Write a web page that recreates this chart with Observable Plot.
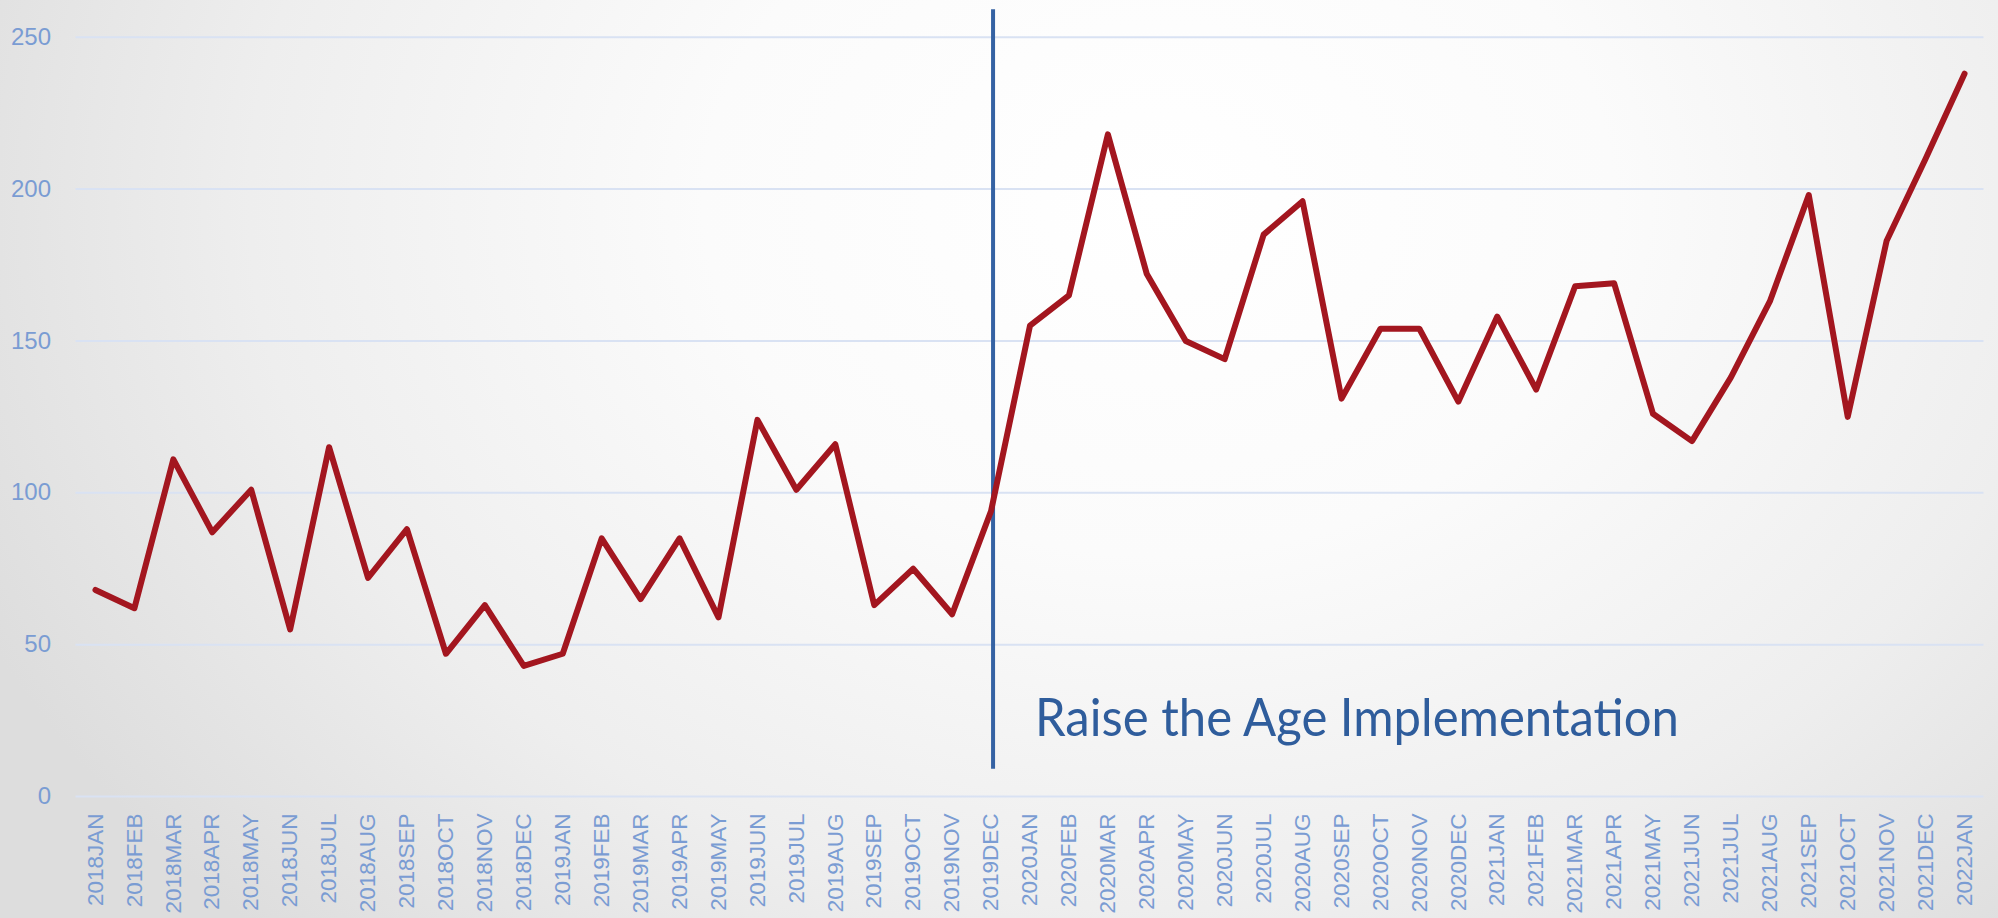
<!DOCTYPE html>
<html>
<head>
<meta charset="utf-8">
<script src="https://cdn.jsdelivr.net/npm/d3@7"></script>
<script src="https://cdn.jsdelivr.net/npm/@observablehq/plot@0.6"></script>
<style>
  html, body { margin: 0; padding: 0; }
  body {
    width: 1998px; height: 918px; overflow: hidden;
    background: radial-gradient(ellipse 65% 110% at 58% 22%, #ffffff 0%, #fbfbfb 35%, #eeeeee 70%, #dddddd 100%);
  }
  #chart svg { display: block; }
</style>
</head>
<body>
<div id="chart"></div>
<script>
const months = [
  "2018JAN","2018FEB","2018MAR","2018APR","2018MAY","2018JUN","2018JUL","2018AUG","2018SEP","2018OCT","2018NOV","2018DEC",
  "2019JAN","2019FEB","2019MAR","2019APR","2019MAY","2019JUN","2019JUL","2019AUG","2019SEP","2019OCT","2019NOV","2019DEC",
  "2020JAN","2020FEB","2020MAR","2020APR","2020MAY","2020JUN","2020JUL","2020AUG","2020SEP","2020OCT","2020NOV","2020DEC",
  "2021JAN","2021FEB","2021MAR","2021APR","2021MAY","2021JUN","2021JUL","2021AUG","2021SEP","2021OCT","2021NOV","2021DEC",
  "2022JAN"
];
const counts = [
  68, 62, 111, 87, 101, 55, 115, 72, 88, 47, 63, 43,
  47, 85, 65, 85, 59, 124, 101, 116, 63, 75, 60, 94,
  155, 165, 218, 172, 150, 144, 185, 196, 131, 154, 154, 130,
  158, 134, 168, 169, 126, 117, 138, 163, 198, 125, 183, 210,
  238
];
const yTicks = [0, 50, 100, 150, 200, 250];
const markerMonth = "2019DEC";
const markerRange = [9, 259];
const annotation = "Raise the Age Implementation";
const annotationMonth = "2020JAN";
const annotationValue = 25.3;

const data = months.map((m, i) => ({month: m, value: counts[i]}));

const labelColor = "#7A9CD3";
const chart = Plot.plot({
  width: 1998,
  height: 918,
  marginLeft: 75.5,
  marginRight: 14.5,
  marginTop: 36.7,
  marginBottom: 122,
  style: {fontFamily: "Liberation Sans, Arial, sans-serif", background: "transparent", overflow: "visible"},
  x: {type: "point", domain: months, padding: 0.5, label: null},
  y: {domain: [0, 250], label: null},
  marks: [
    Plot.gridY(yTicks, {stroke: "#D9E2F3", strokeOpacity: 1, strokeWidth: 2}),
    Plot.axisY(yTicks, {tickSize: 0, tickPadding: 25, fontSize: 24, color: labelColor, label: null}),
    Plot.axisX({tickSize: 0, tickPadding: 17, tickRotate: -90, fontSize: 22.5, color: labelColor, label: null}),
    Plot.ruleX([markerMonth], {y1: markerRange[0], y2: markerRange[1], stroke: "#3562A3", strokeWidth: 4, dx: 2}),
    Plot.line(data, {x: "month", y: "value", stroke: "#A3161F", strokeWidth: 6, strokeLinejoin: "round", strokeLinecap: "round"}),
    Plot.text([annotation], {x: () => annotationMonth, y: () => annotationValue, text: d => d, textAnchor: "start", dx: 5, fontSize: 52, fill: "#2F5D9C", fontFamily: "Lato, Open Sans, sans-serif", className: "annot"})
  ]
});
document.getElementById("chart").appendChild(chart);
d3.select(chart).selectAll(".annot text").attr("textLength", 644).attr("lengthAdjust", "spacingAndGlyphs");
</script>
</body>
</html>
